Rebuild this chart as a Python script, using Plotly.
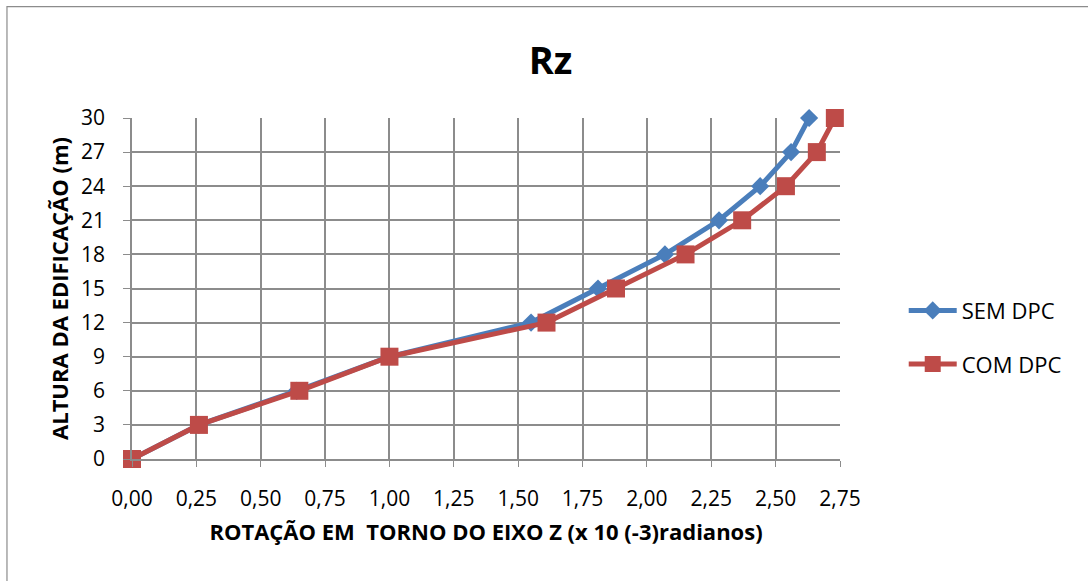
import plotly.graph_objects as go

# Building height (m) and rotation about Z (x 10^-3 rad)
altura = [0, 3, 6, 9, 12, 15, 18, 21, 24, 27, 30]
rot_sem_dpc = [0.00, 0.26, 0.64, 1.00, 1.55, 1.81, 2.07, 2.28, 2.44, 2.56, 2.63]
rot_com_dpc = [0.00, 0.26, 0.65, 1.00, 1.61, 1.88, 2.15, 2.37, 2.54, 2.66, 2.73]

x_ticks = [0, 0.25, 0.5, 0.75, 1.0, 1.25, 1.5, 1.75, 2.0, 2.25, 2.5, 2.75]
x_tick_text = ["0,00", "0,25", "0,50", "0,75", "1,00", "1,25", "1,50", "1,75",
               "2,00", "2,25", "2,50", "2,75"]
y_ticks = [0, 3, 6, 9, 12, 15, 18, 21, 24, 27, 30]

FONT = "'Open Sans', Lato, sans-serif"
BLUE = "#4a7ebb"
RED = "#be4b48"

fig = go.Figure()
fig.add_trace(go.Scatter(
    x=rot_sem_dpc, y=altura, name="SEM DPC", legendgroup="sem", mode="lines+markers",
    line=dict(color=BLUE, width=5),
    marker=dict(symbol="diamond", size=14, color=BLUE),
    cliponaxis=False,
))
fig.add_trace(go.Scatter(
    x=rot_com_dpc, y=altura, name="COM DPC", legendgroup="com", mode="lines+markers",
    line=dict(color=RED, width=5),
    marker=dict(symbol="square", size=18, color=RED),
    cliponaxis=False,
))

grid = "#8c8c8c"
fig.update_xaxes(
    range=[0, 2.75], tickvals=x_ticks, ticktext=x_tick_text,
    showgrid=True, gridcolor=grid, gridwidth=1.5,
    showline=True, linecolor=grid, linewidth=1.5,
    ticks="outside", ticklen=6, tickcolor=grid, ticklabelstandoff=14,
    zeroline=False, tickfont=dict(family=FONT, size=21, color="#000"),
    title=dict(text="<b>ROTAÇÃO EM  TORNO DO EIXO Z (x 10 (-3)radianos)</b>",
               font=dict(family=FONT, size=22, color="#000"), standoff=14),
)
fig.update_yaxes(
    range=[0, 30], tickvals=y_ticks,
    showgrid=True, gridcolor=grid, gridwidth=1.5,
    showline=True, linecolor=grid, linewidth=1.5,
    ticks="outside", ticklen=7, tickcolor=grid, ticklabelstandoff=14,
    zeroline=False, tickfont=dict(family=FONT, size=21, color="#000"),
    title=dict(text="<b>ALTURA DA EDIFICAÇÃO (m)</b>",
               font=dict(family=FONT, size=22, color="#000"), standoff=6),
)

# Chart-area border (left/top visible, right/bottom run off the page)
fig.add_shape(type="rect", xref="paper", yref="paper",
              x0=-0.1766, x1=1.36, y0=-0.37, y1=1.3264,
              line=dict(color="#8c8c8c", width=1.2), layer="below")

fig.update_layout(
    width=1088, height=581,
    margin=dict(l=132, r=248, t=118, b=122),
    paper_bgcolor="white", plot_bgcolor="white",
    title=dict(text="<b>Rz</b>", x=0.506, xanchor="center", y=0.895, yanchor="middle",
               font=dict(family=FONT, size=38, color="#000")),
    legend=dict(x=1.09, y=0.356, xanchor="left", yanchor="middle",
                font=dict(family=FONT, size=22, color="#000"),
                tracegroupgap=22, itemwidth=48, bgcolor="rgba(0,0,0,0)"),
    showlegend=True,
)

fig.write_html("out.html")
